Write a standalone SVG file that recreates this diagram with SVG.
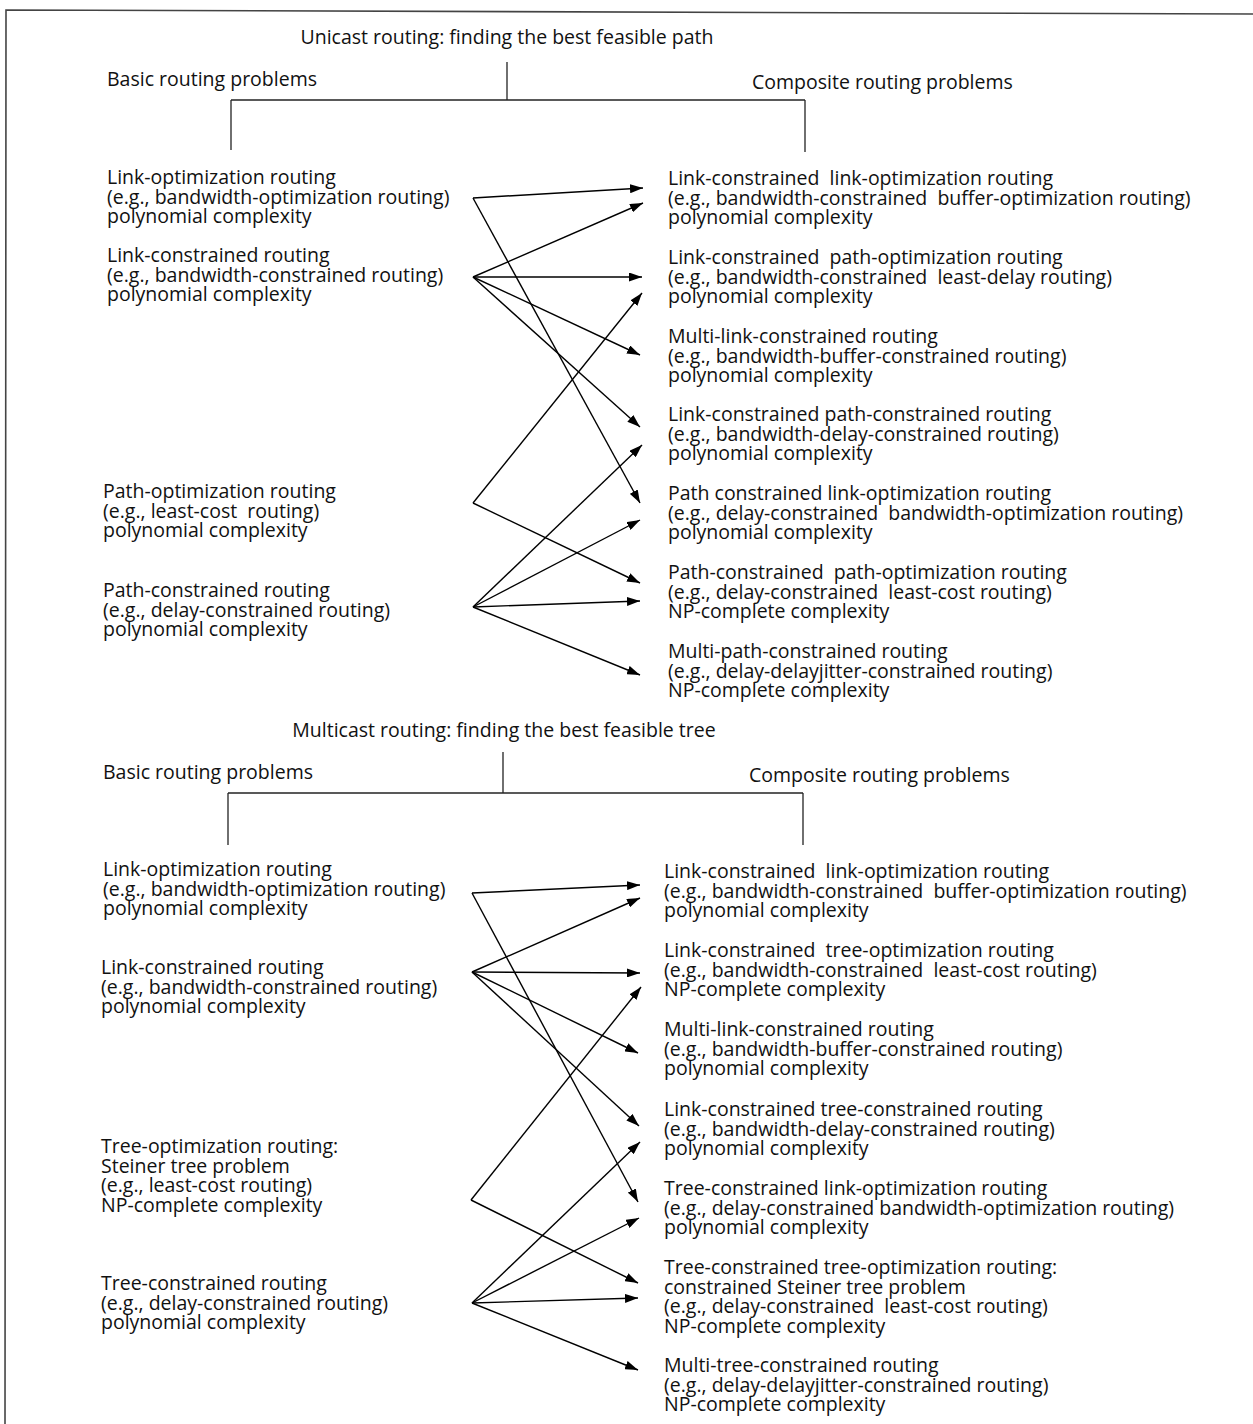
<svg xmlns="http://www.w3.org/2000/svg" width="1253" height="1424" viewBox="0 0 1253 1424">
<defs>
<marker id="ah" markerWidth="13" markerHeight="9" refX="13" refY="4.5" orient="auto" markerUnits="userSpaceOnUse">
<path d="M0,0 L13,4.5 L0,9 z" fill="#000"/>
</marker>
<style>
text{font-family:"Open Sans","Liberation Sans",Arial,sans-serif;font-size:19.5px;fill:#111;white-space:pre}
.tree line{stroke:#222;stroke-width:1.3;fill:none}
.conn line{stroke:#000;stroke-width:1.4;marker-end:url(#ah)}
.frame{stroke:#444;stroke-width:1.6;fill:none}
</style>
</defs>
<rect width="1253" height="1424" fill="#fff"/>
<polyline class="frame" points="1253,14 6,10 5,1424"/>

<g id="unicast-tree" class="tree">
<line x1="507" y1="62" x2="507" y2="100"/>
<line x1="231" y1="100" x2="805" y2="100"/>
<line x1="231" y1="100" x2="231" y2="150"/>
<line x1="805" y1="100" x2="805" y2="152"/>
</g>
<g id="unicast-title"><text x="507" y="44" text-anchor="middle">Unicast routing: finding the best feasible path</text></g>
<g id="u-basic"><text x="107" y="86">Basic routing problems</text></g>
<g id="u-composite"><text x="752" y="89">Composite routing problems</text></g>

<g id="u-l1"><text x="107" y="184"><tspan x="107">Link-optimization routing</tspan><tspan x="107" dy="19.6">(e.g., bandwidth-optimization routing)</tspan><tspan x="107" dy="19.6">polynomial complexity</tspan></text></g>
<g id="u-l2"><text x="107" y="262"><tspan x="107">Link-constrained routing</tspan><tspan x="107" dy="19.6">(e.g., bandwidth-constrained routing)</tspan><tspan x="107" dy="19.6">polynomial complexity</tspan></text></g>
<g id="u-l3"><text x="103" y="498"><tspan x="103">Path-optimization routing</tspan><tspan x="103" dy="19.6">(e.g., least-cost  routing)</tspan><tspan x="103" dy="19.6">polynomial complexity</tspan></text></g>
<g id="u-l4"><text x="103" y="597"><tspan x="103">Path-constrained routing</tspan><tspan x="103" dy="19.6">(e.g., delay-constrained routing)</tspan><tspan x="103" dy="19.6">polynomial complexity</tspan></text></g>

<g id="u-r1"><text x="668" y="185"><tspan x="668">Link-constrained  link-optimization routing</tspan><tspan x="668" dy="19.6">(e.g., bandwidth-constrained  buffer-optimization routing)</tspan><tspan x="668" dy="19.6">polynomial complexity</tspan></text></g>
<g id="u-r2"><text x="668" y="264"><tspan x="668">Link-constrained  path-optimization routing</tspan><tspan x="668" dy="19.6">(e.g., bandwidth-constrained  least-delay routing)</tspan><tspan x="668" dy="19.6">polynomial complexity</tspan></text></g>
<g id="u-r3"><text x="668" y="343"><tspan x="668">Multi-link-constrained routing</tspan><tspan x="668" dy="19.6">(e.g., bandwidth-buffer-constrained routing)</tspan><tspan x="668" dy="19.6">polynomial complexity</tspan></text></g>
<g id="u-r4"><text x="668" y="421"><tspan x="668">Link-constrained path-constrained routing</tspan><tspan x="668" dy="19.6">(e.g., bandwidth-delay-constrained routing)</tspan><tspan x="668" dy="19.6">polynomial complexity</tspan></text></g>
<g id="u-r5"><text x="668" y="500"><tspan x="668">Path constrained link-optimization routing</tspan><tspan x="668" dy="19.6">(e.g., delay-constrained  bandwidth-optimization routing)</tspan><tspan x="668" dy="19.6">polynomial complexity</tspan></text></g>
<g id="u-r6"><text x="668" y="579"><tspan x="668">Path-constrained  path-optimization routing</tspan><tspan x="668" dy="19.6">(e.g., delay-constrained  least-cost routing)</tspan><tspan x="668" dy="19.6">NP-complete complexity</tspan></text></g>
<g id="u-r7"><text x="668" y="658"><tspan x="668">Multi-path-constrained routing</tspan><tspan x="668" dy="19.6">(e.g., delay-delayjitter-constrained routing)</tspan><tspan x="668" dy="19.6">NP-complete complexity</tspan></text></g>

<g id="multicast-tree" class="tree">
<line x1="503" y1="752" x2="503" y2="793"/>
<line x1="228" y1="793" x2="803" y2="793"/>
<line x1="228" y1="793" x2="228" y2="845"/>
<line x1="803" y1="793" x2="803" y2="845"/>
</g>
<g id="multicast-title"><text x="504" y="737" text-anchor="middle">Multicast routing: finding the best feasible tree</text></g>
<g id="m-basic"><text x="103" y="779">Basic routing problems</text></g>
<g id="m-composite"><text x="749" y="782">Composite routing problems</text></g>

<g id="m-l1"><text x="103" y="876"><tspan x="103">Link-optimization routing</tspan><tspan x="103" dy="19.6">(e.g., bandwidth-optimization routing)</tspan><tspan x="103" dy="19.6">polynomial complexity</tspan></text></g>
<g id="m-l2"><text x="101" y="974"><tspan x="101">Link-constrained routing</tspan><tspan x="101" dy="19.6">(e.g., bandwidth-constrained routing)</tspan><tspan x="101" dy="19.6">polynomial complexity</tspan></text></g>
<g id="m-l3"><text x="101" y="1153"><tspan x="101">Tree-optimization routing:</tspan><tspan x="101" dy="19.6">Steiner tree problem</tspan><tspan x="101" dy="19.6">(e.g., least-cost routing)</tspan><tspan x="101" dy="19.6">NP-complete complexity</tspan></text></g>
<g id="m-l4"><text x="101" y="1290"><tspan x="101">Tree-constrained routing</tspan><tspan x="101" dy="19.6">(e.g., delay-constrained routing)</tspan><tspan x="101" dy="19.6">polynomial complexity</tspan></text></g>

<g id="m-r1"><text x="664" y="878"><tspan x="664">Link-constrained  link-optimization routing</tspan><tspan x="664" dy="19.6">(e.g., bandwidth-constrained  buffer-optimization routing)</tspan><tspan x="664" dy="19.6">polynomial complexity</tspan></text></g>
<g id="m-r2"><text x="664" y="957"><tspan x="664">Link-constrained  tree-optimization routing</tspan><tspan x="664" dy="19.6">(e.g., bandwidth-constrained  least-cost routing)</tspan><tspan x="664" dy="19.6">NP-complete complexity</tspan></text></g>
<g id="m-r3"><text x="664" y="1036"><tspan x="664">Multi-link-constrained routing</tspan><tspan x="664" dy="19.6">(e.g., bandwidth-buffer-constrained routing)</tspan><tspan x="664" dy="19.6">polynomial complexity</tspan></text></g>
<g id="m-r4"><text x="664" y="1116"><tspan x="664">Link-constrained tree-constrained routing</tspan><tspan x="664" dy="19.6">(e.g., bandwidth-delay-constrained routing)</tspan><tspan x="664" dy="19.6">polynomial complexity</tspan></text></g>
<g id="m-r5"><text x="664" y="1195"><tspan x="664">Tree-constrained link-optimization routing</tspan><tspan x="664" dy="19.6">(e.g., delay-constrained bandwidth-optimization routing)</tspan><tspan x="664" dy="19.6">polynomial complexity</tspan></text></g>
<g id="m-r6"><text x="664" y="1274"><tspan x="664">Tree-constrained tree-optimization routing:</tspan><tspan x="664" dy="19.6">constrained Steiner tree problem</tspan><tspan x="664" dy="19.6">(e.g., delay-constrained  least-cost routing)</tspan><tspan x="664" dy="19.6">NP-complete complexity</tspan></text></g>
<g id="m-r7"><text x="664" y="1372"><tspan x="664">Multi-tree-constrained routing</tspan><tspan x="664" dy="19.6">(e.g., delay-delayjitter-constrained routing)</tspan><tspan x="664" dy="19.6">NP-complete complexity</tspan></text></g>

<g id="connectors" class="conn">
<line x1="473" y1="198" x2="643" y2="188"/>
<line x1="473" y1="198" x2="640" y2="503"/>
<line x1="473" y1="277" x2="643" y2="203"/>
<line x1="473" y1="277" x2="642" y2="277"/>
<line x1="473" y1="277" x2="640" y2="355"/>
<line x1="473" y1="277" x2="640" y2="427"/>
<line x1="473" y1="503" x2="642" y2="293"/>
<line x1="473" y1="503" x2="640" y2="583"/>
<line x1="473" y1="607" x2="642" y2="445"/>
<line x1="473" y1="607" x2="640" y2="520"/>
<line x1="473" y1="607" x2="640" y2="601"/>
<line x1="473" y1="607" x2="640" y2="675"/>

<line x1="472" y1="893" x2="640" y2="885"/>
<line x1="472" y1="893" x2="638" y2="1202"/>
<line x1="472" y1="972" x2="640" y2="898"/>
<line x1="472" y1="972" x2="640" y2="973"/>
<line x1="472" y1="972" x2="638" y2="1053"/>
<line x1="472" y1="972" x2="639" y2="1126"/>
<line x1="471" y1="1200" x2="641" y2="987"/>
<line x1="471" y1="1200" x2="638" y2="1283"/>
<line x1="472" y1="1303" x2="640" y2="1142"/>
<line x1="472" y1="1303" x2="639" y2="1218"/>
<line x1="472" y1="1303" x2="638" y2="1298"/>
<line x1="472" y1="1303" x2="638" y2="1370"/>
</g>
</svg>
